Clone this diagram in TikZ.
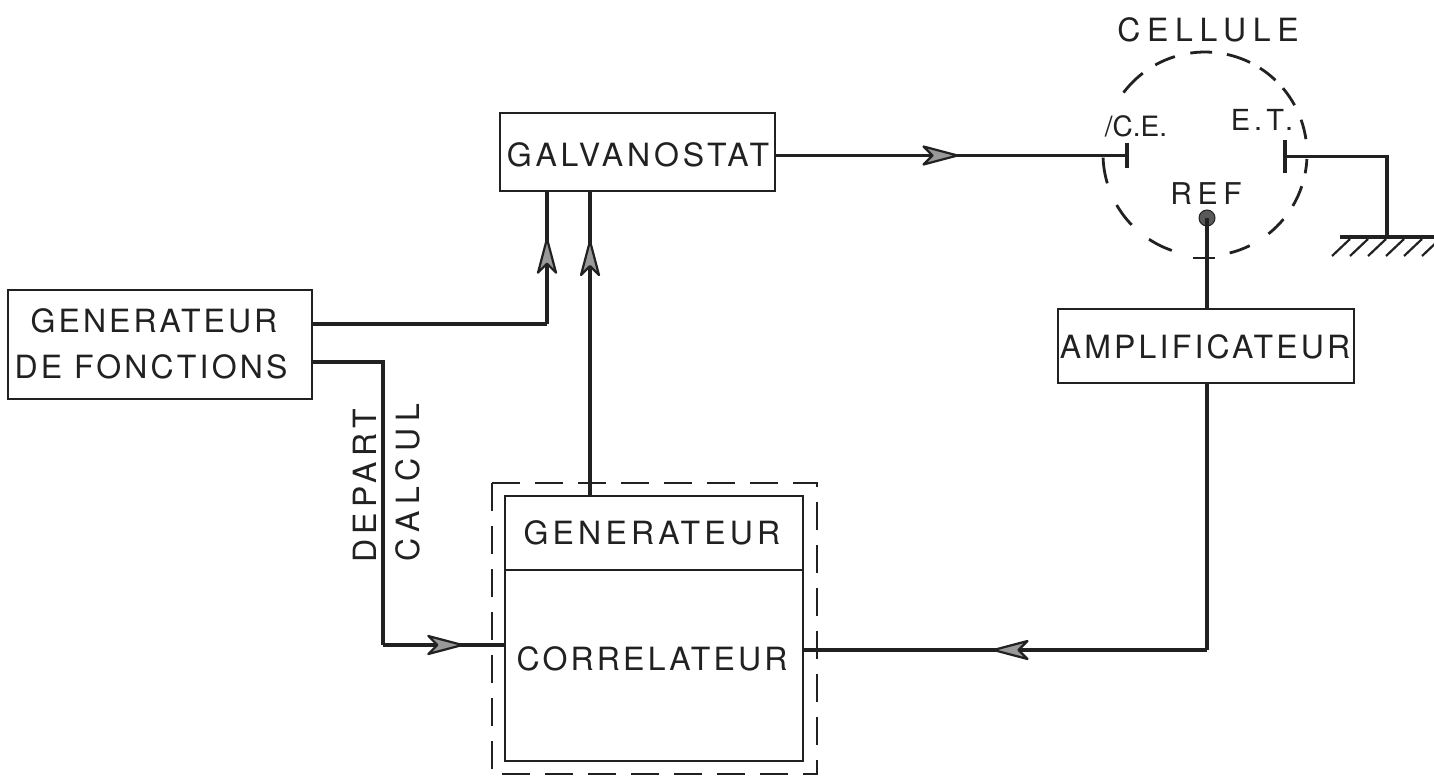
\documentclass[tikz,border=0pt]{standalone}
\usepackage{fontspec}
\setmainfont{TeX Gyre Heros}[LetterSpace=9]
\usetikzlibrary{arrows.meta,decorations.markings}
\newcommand{\lsp}[1]{\addfontfeature{LetterSpace=#1}}
\tikzset{
 x=1pt,y=-1pt,
 box/.style={draw=ink,line width=2.2pt,fill=none,rectangle,inner sep=0pt},
 wire/.style={draw=ink,line width=3.2pt,line join=miter},
 thinwire/.style={draw=ink,line width=2.2pt},
 dashline/.style={draw=ink,line width=2.4pt},
 lbl/.style={text=ink,font=\fontsize{32}{32}\selectfont,inner sep=0pt},
 midarrow/.style={postaction={decorate},decoration={markings,mark=at position #1 with {\draw[draw=ink,fill=gray!80,line width=2.2pt,line join=round] (0pt,0pt) -- (-34pt,-9pt) -- (-25pt,0pt) -- (-34pt,9pt) -- cycle;}}}
}
\definecolor{ink}{gray}{0.13}
\begin{document}
\begin{tikzpicture}
\useasboundingbox (0,0) rectangle (1434,776);
\fill[white] (0,0) rectangle (1434,776);
% boxes
\node[box,minimum width=304pt,minimum height=109pt] (gen) at (160,344.5) {};
\node[box,minimum width=275pt,minimum height=78pt] (gal) at (637.5,152) {};
\node[box,minimum width=296pt,minimum height=74pt] (amp) at (1206,346) {};
\node[box,minimum width=298pt,minimum height=265pt] (cor) at (654,628.5) {};
\coordinate (divy) at (654,570);
\draw[box] (cor.west |- divy) -- (cor.east |- divy);
\draw[dashline,dash pattern=on 28pt off 15pt] (492,483) -- (817,483) -- (817,774) -- (492,774) -- cycle;
% labels
\node[lbl] (tgen1) at (154,321) {\lsp{9.5}GENERATEUR};
\node[lbl] (tgen2) at (151,367) {\lsp{10}DE FONCTIONS};
\node[lbl] (tgal) at (638,155) {\lsp{12}GALVANOSTAT};
\node[lbl] (tamp) at (1205,347) {\lsp{10}AMPLIFICATEUR};
\node[lbl] (tg) at (652,533) {\lsp{13}GENERATEUR};
\node[lbl] (tc) at (652,659) {\lsp{10}CORRELATEUR};
\node[lbl,rotate=90] (tdep) at (365,486) {\lsp{17}DEPART};
\node[lbl,rotate=90] (tcal) at (408,483) {\lsp{21}CALCUL};
\node[lbl] (tcell) at (1208,30) {\lsp{21}CELLULE};
\node[lbl,font=\fontsize{28}{28}\selectfont] (tce) at (1136,126) {\lsp{0}/C.E.};
\node[lbl,font=\fontsize{29}{29}\selectfont] (tet) at (1262,120) {\lsp{14}E.T.};
\node[lbl,font=\fontsize{30}{30}\selectfont] (tref) at (1206,194) {\lsp{19}REF};
% cell
\coordinate (cell) at (1205,154);
\foreach \a/\b in {143/127.6,119.2/107.2,98.3/86,77.6/63.8,57.4/46.3,40.2/28.6,19.6/8.4,-2.8/-10.9,-18.4/-30.6,-39.7/-51.5,-64/-76,251/236.7,224/210,196.7/182}
  \draw[dashline,line width=2.8pt] (cell) ++(\a:102pt) arc[start angle=\a,end angle=\b,radius=102pt];
% electrodes
\coordinate (ce) at (1127,155.5);
\coordinate (et) at (1285,156.5);
\draw[wire,line width=4pt] (1127,143) -- (1127,168);
\draw[wire,line width=3.4pt] (1285,140) -- (1285,173);
\coordinate (refdot) at (1207,218);
\fill[gray!70!black,draw=ink,line width=1pt] (refdot) circle (8pt);
% connectors
\coordinate (c1) at (547,324);
\draw[wire] (gen.east |- c1) -- (c1);
\draw[wire,midarrow=0.647] (c1) -- (c1 |- gal.south);
\coordinate (c2) at (590,496);
\draw[wire,midarrow=0.839] (c2) -- (c2 |- gal.south);
\coordinate (c3) at (383,362);
\coordinate (c4) at (383,645);
\draw[wire] (gen.east |- c3) -- (c3) -- (c4);
\draw[wire,midarrow=0.656] (c4) -- (cor.west |- c4);
\draw[wire,midarrow=0.517] (gal.east |- ce) -- (ce);
\coordinate (c5) at (1387,156.5);
\coordinate (gnd) at (1387,237);
\draw[wire] (et) -- (c5) -- (gnd);
\draw[wire,line width=3.6pt] (1340,237) -- (1434,237);
\foreach \h in {1350,1368,1386,1404,1422,1440}
  \draw[thinwire] (\h,239) -- ++(-18,17);
\draw[wire] (refdot) -- (refdot |- amp.north);
\draw[thinwire,line width=2.6pt] (1193,258) -- (1215,258);
\coordinate (c6) at (1207,650);
\draw[wire] (c6 |- amp.south) -- (c6);
\draw[wire,midarrow=0.53] (c6) -- (cor.east |- c6);
\end{tikzpicture}
\end{document}
